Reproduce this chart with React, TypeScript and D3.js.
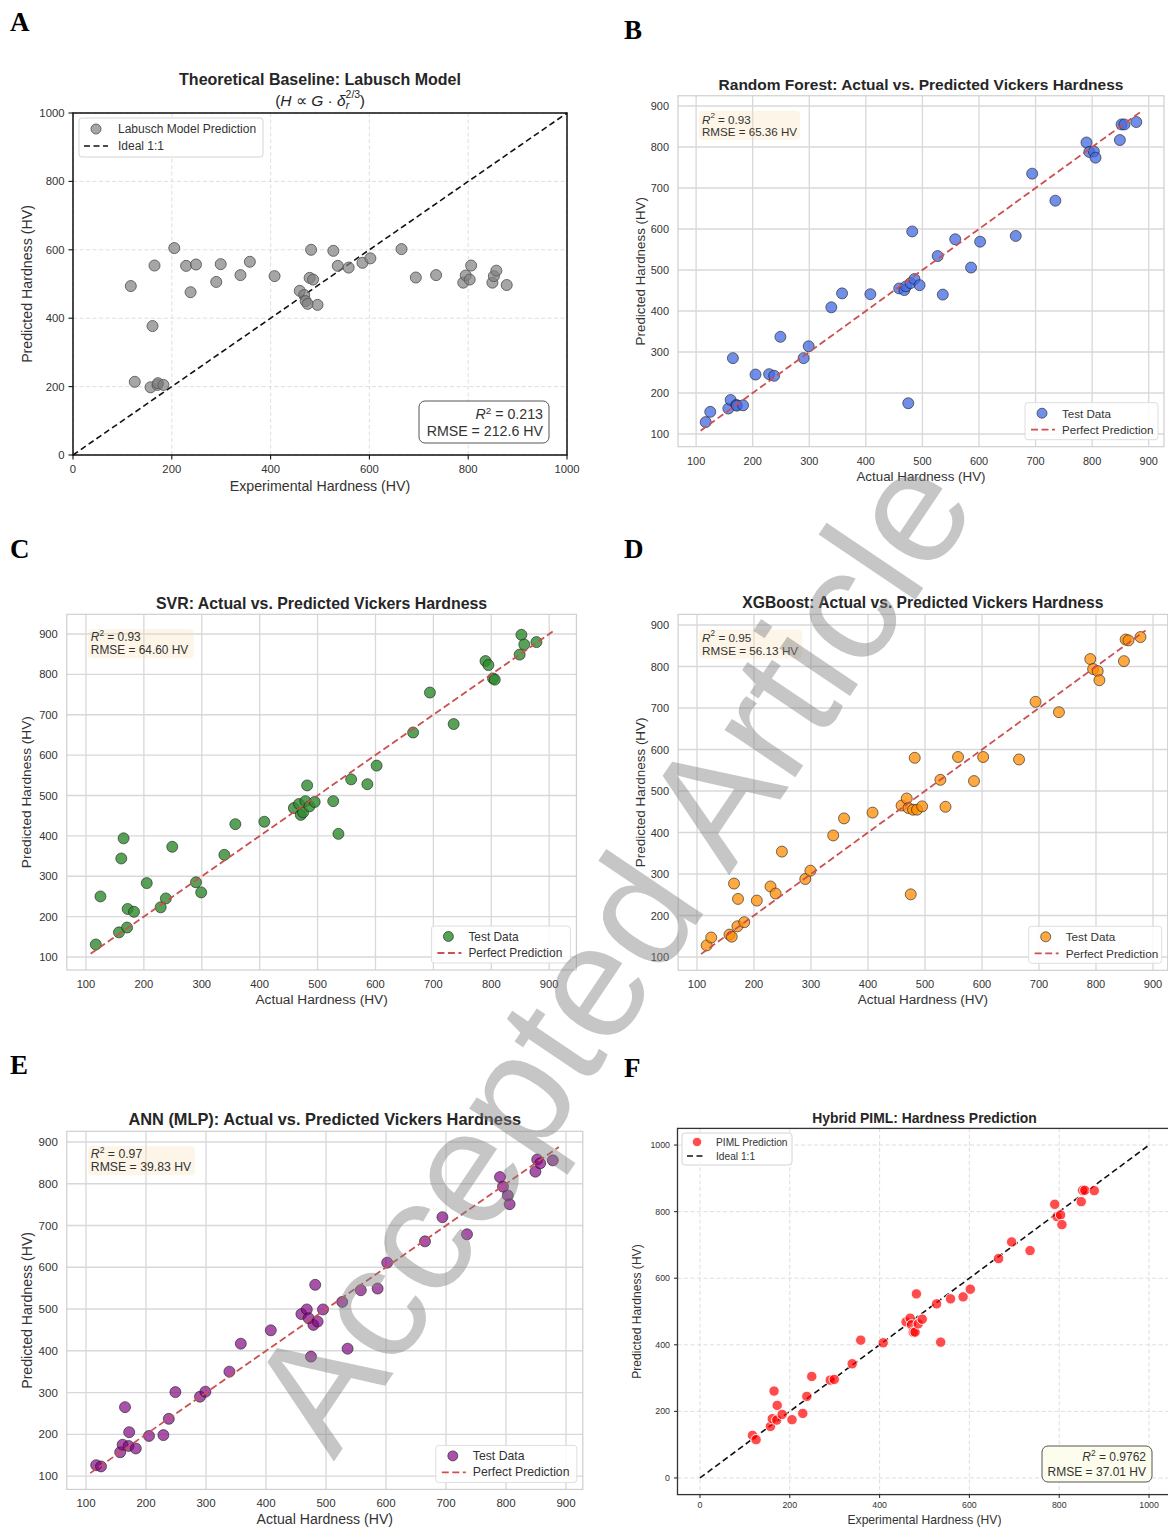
import React from 'react'
import * as d3 from 'd3'

// measured hardness of the test samples (HV), shared by every panel
const actual = [117, 125, 157, 161, 165, 171, 172, 183, 205, 229, 238, 249, 290, 299, 339, 358, 408, 459, 468, 471, 475, 479, 482, 486, 495, 527, 536, 558, 586, 602, 665, 694, 735, 790, 795, 803, 806, 849, 852, 857, 878]

// predictions per model, same order as actual
const labusch = [494, 214, 198, 377, 554, 205, 210, 205, 605, 553, 476, 557, 506, 558, 526, 565, 523, 480, 468, 450, 442, 518, 600, 513, 439, 597, 553, 548, 562, 575, 602, 519, 526, 504, 525, 513, 554, 504, 523, 539, 497]
const rf = [129, 154, 162, 183, 285, 171, 169, 170, 245, 246, 242, 337, 285, 314, 409, 443, 441, 455, 451, 460, 175, 468, 594, 478, 463, 534, 440, 575, 506, 569, 583, 735, 669, 811, 788, 789, 774, 817, 855, 855, 861]
const svr = [131, 250, 161, 344, 394, 173, 219, 212, 283, 223, 245, 373, 285, 260, 353, 429, 435, 469, 479, 452, 458, 486, 525, 473, 484, 486, 405, 540, 528, 574, 656, 755, 677, 833, 823, 790, 787, 849, 898, 874, 880]
const xgb = [128, 147, 154, 149, 277, 174, 240, 184, 236, 270, 253, 354, 288, 308, 393, 434, 448, 465, 482, 459, 251, 455, 580, 455, 463, 527, 462, 582, 524, 582, 576, 715, 690, 818, 794, 789, 767, 813, 865, 863, 871]
const ann = [126, 123, 157, 175, 265, 172, 205, 166, 196, 198, 237, 301, 290, 302, 350, 417, 449, 488, 499, 478, 386, 462, 558, 470, 499, 517, 405, 545, 549, 611, 662, 720, 679, 816, 793, 772, 751, 829, 858, 849, 856]
const piml = [128, 115, 155, 178, 261, 174, 218, 191, 175, 194, 245, 305, 294, 296, 343, 414, 406, 469, 480, 460, 438, 438, 553, 463, 477, 523, 408, 538, 544, 567, 659, 709, 683, 822, 785, 790, 761, 830, 864, 864, 863]

const mlTicks = [100, 200, 300, 400, 500, 600, 700, 800, 900]
const physTicks = [0, 200, 400, 600, 800, 1000]

// 1:1 line extents
const idealPhys = [0, 1000]
const idealRf = [108, 887]
const idealSvr = [108, 906]
const idealXgb = [107, 887]
const idealAnn = [107, 888]

const statsLabusch = ['0.213', '212.6']
const statsRf = ['0.93', '65.36']
const statsSvr = ['0.93', '64.60']
const statsXgb = ['0.95', '56.13']
const statsAnn = ['0.97', '39.83']
const statsPiml = ['0.9762', '37.01']

const FONT = '"Liberation Sans", Arial, Helvetica, sans-serif'
const SERIF = '"Liberation Serif", "Times New Roman", serif'
const TXT = '#262626'

const R2 = ({ v }) => (
  <>
    <tspan fontStyle="italic">R</tspan>
    <tspan dy={-4} fontSize="0.7em">2</tspan>
    <tspan dy={4}>{' = ' + v}</tspan>
  </>
)

// seaborn whitegrid style panels (B-E)
function MlPanel({ p }) {
  const x = d3.scaleLinear().domain(p.xDomain).range([p.left, p.right])
  const y = d3.scaleLinear().domain(p.yDomain).range([p.bottom, p.top])
  const cx = (p.left + p.right) / 2
  const cy = (p.top + p.bottom) / 2
  const k = p.fs
  const lg = { w: p.legW, h: 37 }
  const lgL = p.right - 6 - lg.w
  const lgT = p.bottom - 7 - lg.h
  const sL = p.left + 21
  const sT = p.top + 15
  const dot = (cxx, cyy, r, key?) => (
    <circle key={key} cx={cxx} cy={cyy} r={r} fill={p.color} fillOpacity={p.alpha}
      stroke="#1a1a1a" strokeOpacity={0.75} strokeWidth={0.8} />
  )
  return (
    <g fontFamily={FONT}>
      <rect x={p.left} y={p.top} width={p.right - p.left} height={p.bottom - p.top} fill="#fff" />
      {mlTicks.map(t => (
        <g key={t}>
          <line x1={x(t)} x2={x(t)} y1={p.top} y2={p.bottom} stroke="#d8d8d8" strokeWidth={1.3} />
          <line x1={p.left} x2={p.right} y1={y(t)} y2={y(t)} stroke="#d8d8d8" strokeWidth={1.3} />
          <text x={x(t)} y={p.bottom + 14} fontSize={11.2 * k} fill="#333" textAnchor="middle" dominantBaseline="central">{t}</text>
          <text x={p.left - 9} y={y(t)} fontSize={11.2 * k} fill="#333" textAnchor="end" dominantBaseline="central">{t}</text>
        </g>
      ))}
      <rect x={p.left} y={p.top} width={p.right - p.left} height={p.bottom - p.top} fill="none" stroke="#cfcfcf" strokeWidth={1.2} />
      {actual.map((a, i) => dot(x(a), y(p.pred[i]), 5.5, i))}
      <line x1={x(p.ideal[0])} y1={y(p.ideal[0])} x2={x(p.ideal[1])} y2={y(p.ideal[1])}
        stroke="#cc5050" strokeWidth={1.8} strokeDasharray="7,3.5" />
      <text x={cx} y={p.titleY} fontSize={15.9 * k} fontWeight="bold" fill={TXT} textAnchor="middle" dominantBaseline="central">{p.title}</text>
      <text x={cx} y={p.bottom + 29.5} fontSize={13.7 * k} fill="#333" textAnchor="middle" dominantBaseline="central">Actual Hardness (HV)</text>
      <text transform={`translate(${p.left - p.yLabOff},${cy}) rotate(-90)`} fontSize={13.7 * k} fill="#333" textAnchor="middle" dominantBaseline="central">Predicted Hardness (HV)</text>
      <rect x={sL} y={sT} width={p.statW} height={29} rx={4} fill="#f5deb3" fillOpacity={0.3} />
      <text x={sL + 3} y={sT + 8} fontSize={11.9 * k} fill="#333" dominantBaseline="central"><R2 v={p.stats[0]} /></text>
      <text x={sL + 3} y={sT + 21} fontSize={11.9 * k} fill="#333" dominantBaseline="central">{'RMSE = ' + p.stats[1] + ' HV'}</text>
      <rect x={lgL} y={lgT} width={lg.w} height={lg.h} rx={3} fill="#fff" fillOpacity={0.85} stroke="#dedede" />
      {dot(lgL + 17, lgT + 10.5, 5)}
      <text x={lgL + 37} y={lgT + 10.5} fontSize={11.9 * k} fill="#333" dominantBaseline="central">Test Data</text>
      <line x1={lgL + 6} x2={lgL + 30} y1={lgT + 27} y2={lgT + 27} stroke="#cc5050" strokeWidth={1.8} strokeDasharray="7,3.5" />
      <text x={lgL + 37} y={lgT + 27} fontSize={11.9 * k} fill="#333" dominantBaseline="central">Perfect Prediction</text>
    </g>
  )
}

// classic ticks style panels (A, F)
function PhysPanel({ p }) {
  const x = d3.scaleLinear().domain(p.xDomain).range([p.left, p.right])
  const y = d3.scaleLinear().domain(p.yDomain).range([p.bottom, p.top])
  const cx = (p.left + p.right) / 2
  const cy = (p.top + p.bottom) / 2
  const L = p.legend
  const S = p.statBox
  const dot = (cxx, cyy, r, key?) => (
    <circle key={key} cx={cxx} cy={cyy} r={r} fill={p.color} fillOpacity={p.alpha}
      stroke={p.edge} strokeWidth={p.edgeW} />
  )
  return (
    <g fontFamily={FONT}>
      {physTicks.map(t => (
        <g key={t}>
          <line x1={x(t)} x2={x(t)} y1={p.top} y2={p.bottom} stroke="#d6d6d6" strokeWidth={0.8} strokeDasharray="4,2.5" />
          <line x1={p.left} x2={p.right} y1={y(t)} y2={y(t)} stroke="#d6d6d6" strokeWidth={0.8} strokeDasharray="4,2.5" />
          <line x1={x(t)} x2={x(t)} y1={p.bottom} y2={p.bottom + p.tickLen} stroke={p.axis} strokeWidth={1.1} />
          <line x1={p.left - p.tickLen} x2={p.left} y1={y(t)} y2={y(t)} stroke={p.axis} strokeWidth={1.1} />
          <text x={x(t)} y={p.bottom + p.xTickOff} fontSize={p.tickFs} fill="#333" textAnchor="middle" dominantBaseline="central">{t}</text>
          <text x={p.left - p.tickLen - 4} y={y(t)} fontSize={p.tickFs} fill="#333" textAnchor="end" dominantBaseline="central">{t}</text>
        </g>
      ))}
      <line x1={x(p.ideal[0])} y1={y(p.ideal[0])} x2={x(p.ideal[1])} y2={y(p.ideal[1])}
        stroke="#111" strokeWidth={1.6} strokeDasharray="6,3.5" />
      {actual.map((a, i) => dot(x(a), y(p.pred[i]), p.r, i))}
      <rect x={p.left} y={p.top} width={p.right - p.left} height={p.bottom - p.top} fill="none" stroke={p.axis} strokeWidth={p.frameW} />
      <text x={cx} y={p.titleY} fontSize={p.titleFs} fontWeight="bold" fill={TXT} textAnchor="middle" dominantBaseline="central">{p.title}</text>
      {p.subtitle}
      <text x={cx} y={p.xLabY} fontSize={p.labFs} fill="#333" textAnchor="middle" dominantBaseline="central">Experimental Hardness (HV)</text>
      <text transform={`translate(${p.yLabX},${cy}) rotate(-90)`} fontSize={p.labFs} fill="#333" textAnchor="middle" dominantBaseline="central">Predicted Hardness (HV)</text>
      <rect x={L.x} y={L.y} width={L.w} height={L.h} rx={3} fill="#fff" fillOpacity={0.85} stroke="#d4d4d4" />
      {dot(L.x + L.mx, L.y + L.r1, p.r - 0.5)}
      <text x={L.x + L.tx} y={L.y + L.r1} fontSize={L.fs} fill="#333" dominantBaseline="central">{p.legendLabel}</text>
      <line x1={L.x + 5} x2={L.x + L.tx - 10} y1={L.y + L.r2} y2={L.y + L.r2} stroke="#111" strokeWidth={1.6} strokeDasharray="6,3.5" />
      <text x={L.x + L.tx} y={L.y + L.r2} fontSize={L.fs} fill="#333" dominantBaseline="central">Ideal 1:1</text>
      <rect x={S.x} y={S.y} width={S.w} height={S.h} rx={6} fill={S.fill} stroke="#555" strokeWidth={1} />
      <text x={S.x + S.w - 6} y={S.y + S.h * 0.31} fontSize={S.fs} fill="#333" textAnchor="end" dominantBaseline="central"><R2 v={p.stats[0]} /></text>
      <text x={S.x + S.w - 6} y={S.y + S.h * 0.71} fontSize={S.fs} fill="#333" textAnchor="end" dominantBaseline="central">{'RMSE = ' + p.stats[1] + ' HV'}</text>
    </g>
  )
}

const subtitleA = (
  <text x={320} y={100} fontSize={15.5} fill={TXT} textAnchor="middle" dominantBaseline="central" fontFamily={FONT}>
    (<tspan fontStyle="italic">H</tspan> ∝ <tspan fontStyle="italic">G</tspan> · <tspan fontStyle="italic">δ</tspan>
    <tspan dy={-6.5} fontSize={10.5}>2/3</tspan>
    <tspan dx={-14.5} dy={11} fontSize={10.5} fontStyle="italic">r</tspan>
    <tspan dx={10.5} dy={-4.5}>)</tspan>
  </text>
)

const panelA = {
  left: 73, right: 567, top: 113, bottom: 455, xDomain: [0, 1000], yDomain: [0, 1000],
  pred: labusch, ideal: idealPhys, stats: statsLabusch, color: '#808080', alpha: 0.7, edge: '#5a5a5a', edgeW: 0.9, r: 5.5,
  axis: '#111', frameW: 1.5, tickLen: 4.5, tickFs: 11.3, xTickOff: 14, titleFs: 16, titleY: 79, labFs: 14.2,
  xLabY: 486, yLabX: 27, title: 'Theoretical Baseline: Labusch Model', subtitle: subtitleA,
  legendLabel: 'Labusch Model Prediction',
  legend: { x: 79, y: 118, w: 184, h: 39, mx: 17, tx: 39, r1: 11, r2: 28, fs: 12 },
  statBox: { x: 419, y: 401, w: 130, h: 42, fs: 14.2, fill: '#fff' },
}

const panelF = {
  left: 677.5, right: 1171.5, top: 1128.4, bottom: 1494.6, xDomain: [-50, 1050], yDomain: [-50, 1050],
  pred: piml, ideal: idealPhys, stats: statsPiml, color: '#ff0000', alpha: 0.7, edge: '#fff', edgeW: 0.9, r: 5.2,
  axis: '#333', frameW: 1.3, tickLen: 3.5, tickFs: 8.8, xTickOff: 10.5, titleFs: 13.9, titleY: 1118, labFs: 12.1,
  xLabY: 1520, yLabX: 637, title: 'Hybrid PIML: Hardness Prediction', subtitle: null,
  legendLabel: 'PIML Prediction',
  legend: { x: 682, y: 1133, w: 110, h: 32, mx: 15, tx: 34, r1: 9, r2: 23, fs: 10.2 },
  statBox: { x: 1042, y: 1446, w: 110, h: 36, fs: 12, fill: '#fdfdee' },
}

const panelB = {
  left: 678, right: 1164, top: 95.75, bottom: 446.7, xDomain: [68, 927], yDomain: [69, 925],
  pred: rf, ideal: idealRf, stats: statsRf, color: '#4169e1', alpha: 0.75, fs: 0.975, titleY: 84, yLabOff: 38, legW: 133, statW: 101,
  title: 'Random Forest: Actual vs. Predicted Vickers Hardness',
}
const panelC = {
  left: 66.8, right: 576.4, top: 614.3, bottom: 970, xDomain: [66.9, 947], yDomain: [67.8, 948.8],
  pred: svr, ideal: idealSvr, stats: statsSvr, color: '#2e8b2e', alpha: 0.8, fs: 1.0, titleY: 603, yLabOff: 40, legW: 139, statW: 106,
  title: 'SVR: Actual vs. Predicted Vickers Hardness',
}
const panelD = {
  left: 678.1, right: 1167.7, top: 614.4, bottom: 970.3, xDomain: [66.9, 925.8], yDomain: [68, 925.6],
  pred: xgb, ideal: idealXgb, stats: statsXgb, color: '#ff8c00', alpha: 0.75, fs: 0.985, titleY: 602, yLabOff: 38, legW: 133, statW: 103,
  title: 'XGBoost: Actual vs. Predicted Vickers Hardness',
}
const panelE = {
  left: 66.8, right: 582.8, top: 1131.3, bottom: 1489.4, xDomain: [68, 928], yDomain: [68, 925.6],
  pred: ann, ideal: idealAnn, stats: statsAnn, color: '#800080', alpha: 0.68, fs: 1.03, titleY: 1119, yLabOff: 40, legW: 141, statW: 107,
  title: 'ANN (MLP): Actual vs. Predicted Vickers Hardness',
}

const letters = [
  { t: 'A', x: 10, y: 31 }, { t: 'B', x: 624, y: 39 },
  { t: 'C', x: 10, y: 558 }, { t: 'D', x: 624, y: 558 },
  { t: 'E', x: 10, y: 1074 }, { t: 'F', x: 624, y: 1077 },
]

export default function App() {
  return (
    <div style={{ position: 'absolute', left: 0, top: 0 }}>
      <svg width={1168} height={1528} style={{ display: 'block', background: '#fff' }}>
        <PhysPanel p={panelA} />
        <MlPanel p={panelB} />
        <MlPanel p={panelC} />
        <MlPanel p={panelD} />
        <MlPanel p={panelE} />
        <PhysPanel p={panelF} />
        {letters.map(l => (
          <text key={l.t} x={l.x} y={l.y} fontFamily={SERIF} fontWeight="bold" fontSize={27} fill="#000">{l.t}</text>
        ))}
        <text transform="translate(610,952) rotate(-56)" fontFamily={FONT} fontSize={161} fill="#808080" fillOpacity={0.45}
          textAnchor="middle" dominantBaseline="central">Accepted Article</text>
      </svg>
    </div>
  )
}
